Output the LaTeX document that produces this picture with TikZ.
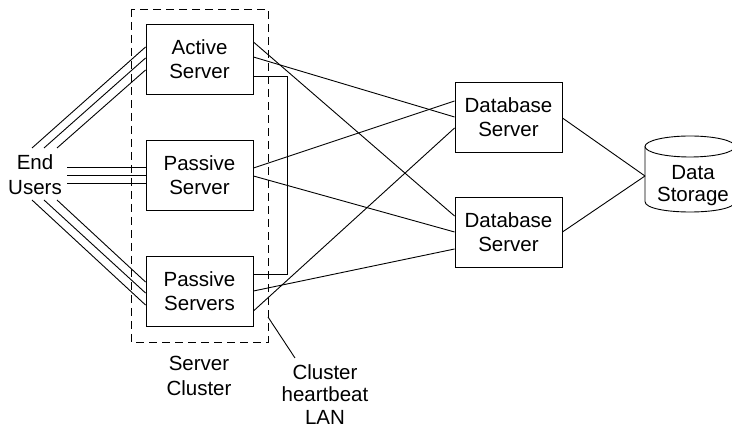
\documentclass[tikz,border=0pt]{standalone}
\usepackage{fontspec}
\setmainfont{Liberation Sans}
\usetikzlibrary{calc}
\begin{document}
\begin{tikzpicture}[x=1pt,y=-1pt,
  line width=0.9pt,
  lbl/.style={font=\fontsize{20.5}{24}\selectfont, align=center, inner sep=0pt},
  srv/.style={draw, lbl, minimum width=107pt, minimum height=70pt},
  cluster/.style={draw, dashed, dash pattern=on 8pt off 5pt},
  wire/.style={draw}]
\useasboundingbox (0,0) rectangle (732,430);

% cluster boundary
\draw[cluster] (131,9) rectangle (268,342);

% servers
\node[srv] (as)  at (199.5,59)  {Active\\Server};
\node[srv] (ps)  at (199.5,175) {Passive\\Server};
\node[srv] (pss) at (199.5,291) {Passive\\Servers};
\node[srv] (db1) at (508.5,117) {Database\\Server};
\node[srv] (db2) at (508.5,232.5) {Database\\Server};

% storage cylinder
\coordinate (st) at (690,174);
\draw (690,146.5) ellipse[x radius=45, y radius=10.5];
\draw (645,146.5) -- (645,201.5) .. controls (645,215.5) and (735,215.5) .. (735,201.5) -- (735,146.5);
\node[lbl, font=\fontsize{20.5}{22}\selectfont] (stl) at (693,186) {Data\\Storage};
\coordinate (stw) at (645,176);

% labels
\node[lbl, font=\fontsize{20.5}{25}\selectfont] (eu) at (35,174.5) {End\\Users};
\node[lbl, font=\fontsize{20.5}{25}\selectfont] (sc) at (199,375.5) {Server\\Cluster};
\node[lbl, font=\fontsize{20.5}{22.5}\selectfont] (hb) at (325,394.5) {Cluster\\heartbeat\\LAN};

% end user start points
\coordinate (u1) at (32,148);
\coordinate (u2) at (44,148);
\coordinate (u3) at (57,148);
\coordinate (m1) at (67,167);
\coordinate (m2) at (67,175);
\coordinate (m3) at (67,183);
\coordinate (l1) at (32,200);
\coordinate (l2) at (44,200);
\coordinate (l3) at (57,200);

\draw (u1) -- ($(as.west)+(0,-12)$);
\draw (u2) -- ($(as.west)+(0,-1)$);
\draw (u3) -- ($(as.west)+(0,11)$);
\draw (m1) -- ($(ps.west)+(0,-8)$);
\draw (m2) -- (ps.west);
\draw (m3) -- ($(ps.west)+(0,8)$);
\draw (l1) -- ($(pss.west)+(0,14)$);
\draw (l2) -- ($(pss.west)+(0,2)$);
\draw (l3) -- ($(pss.west)+(0,-9)$);

% heartbeat LAN
\draw ($(as.east)+(0,17)$) -- (287,76) -- (287,274) -- ($(pss.east)+(0,-17)$);
\coordinate (hbp) at (268,317);
\draw (hbp) -- (295,358);

% server to database links
\draw ($(as.east)+(0,-17)$) -- ($(db2.west)+(0,-16.5)$);
\draw ($(as.east)+(0,-2)$) -- ($(db1.west)+(0,0)$);
\draw ($(ps.east)+(0,-7)$) -- ($(db1.west)+(0,-16)$);
\draw ($(ps.east)+(0,1)$) -- ($(db2.west)+(0,-0.5)$);
\draw ($(pss.east)+(0,0)$) -- ($(db2.west)+(0,16.5)$);
\draw ($(pss.east)+(0,20)$) -- ($(db1.west)+(0,11)$);

% database to storage
\draw ($(db1.east)+(0,1)$) -- (stw);
\draw ($(db2.east)+(0,-0.5)$) -- (stw);
\end{tikzpicture}
\end{document}
